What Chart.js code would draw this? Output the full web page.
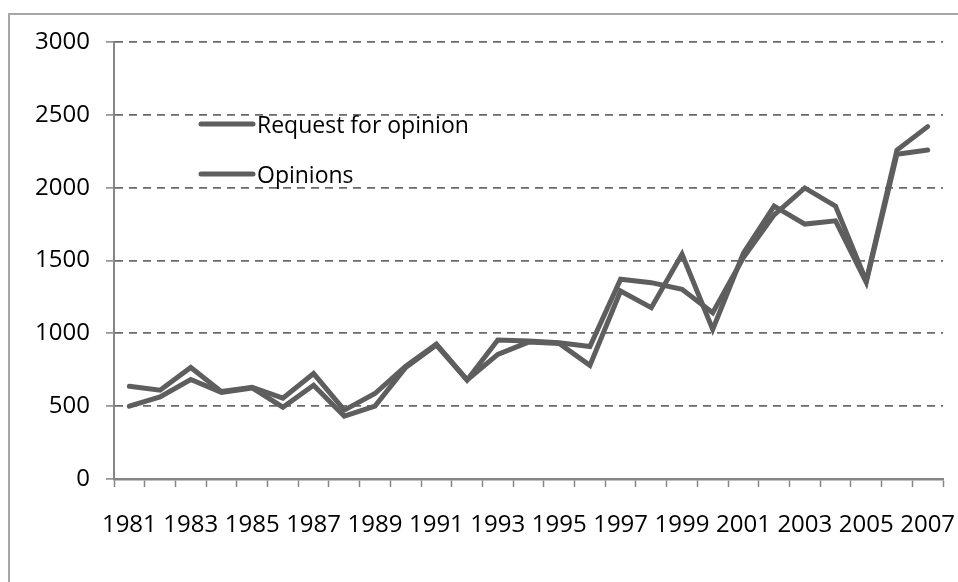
<!DOCTYPE html>
<html>
<head>
<meta charset="utf-8">
<script src="https://cdn.jsdelivr.net/npm/chart.js@4.4.1/dist/chart.umd.min.js"></script>
<style>
  html, body { margin: 0; padding: 0; background: #ffffff; }
  #wrap { position: relative; width: 958px; height: 582px; overflow: hidden; }
  #frame { position: absolute; left: 8px; top: 13px; width: 960px; height: 580px;
           border-left: 2px solid #a6a6a6; border-top: 2px solid #a6a6a6; }
  canvas { position: absolute; left: 0; top: 0; }
</style>
</head>
<body>
<div id="wrap">
  <div id="frame"></div>
  <canvas id="c" width="958" height="582"></canvas>
</div>
<script>
const years = [1981,1982,1983,1984,1985,1986,1987,1988,1989,1990,1991,1992,1993,1994,1995,1996,1997,1998,1999,2000,2001,2002,2003,2004,2005,2006,2007];
const requestsForOpinion = [637,610,766,600,630,555,724,473,587,775,926,680,954,947,936,909,1371,1348,1302,1142,1520,1813,1998,1873,1360,2258,2419];
const opinions = [500,564,683,595,625,493,644,431,500,765,920,680,856,940,930,780,1290,1176,1543,1027,1550,1873,1750,1772,1350,2230,2258];
const yTicks = [0,500,1000,1500,2000,2500,3000];
const seriesNames = ['Request for opinion','Opinions'];

const LINE = '#5e5e5e';
const AXIS = '#858585';
const FONT = "'Open Sans'";

const legendPlugin = {
  id: 'innerLegend',
  afterDraw(chart) {
    const ctx = chart.ctx;
    ctx.save();
    chart.data.datasets.forEach((ds, i) => {
      const y = 124 + i * 50;
      ctx.strokeStyle = ds.borderColor;
      ctx.lineWidth = 5;
      ctx.lineCap = 'round';
      ctx.beginPath();
      ctx.moveTo(201, y);
      ctx.lineTo(253, y);
      ctx.stroke();
      ctx.fillStyle = '#000';
      ctx.font = "23px " + FONT;
      ctx.textBaseline = 'middle';
      ctx.textAlign = 'left';
      ctx.fillText(ds.label, 257, y + 2);
    });
    ctx.restore();
  }
};

new Chart(document.getElementById('c'), {
  type: 'line',
  data: {
    labels: years.map(String),
    datasets: [
      { label: seriesNames[0], data: requestsForOpinion, borderColor: LINE, borderWidth: 5,
        pointRadius: 0, tension: 0, fill: false, borderCapStyle: 'round', borderJoinStyle: 'miter' },
      { label: seriesNames[1], data: opinions, borderColor: LINE, borderWidth: 5,
        pointRadius: 0, tension: 0, fill: false, borderCapStyle: 'round', borderJoinStyle: 'miter' }
    ]
  },
  options: {
    responsive: false,
    animation: false,
    devicePixelRatio: 1,
    layout: { padding: { left: 0, top: 42, right: 15, bottom: 0 } },
    plugins: { legend: { display: false }, tooltip: { enabled: false } },
    scales: {
      x: {
        type: 'category',
        offset: true,
        grid: { offset: true, drawOnChartArea: false, drawTicks: true, tickLength: 8,
                tickColor: AXIS, tickWidth: 1.5 },
        border: { display: true, color: AXIS, width: 2.5 },
        ticks: {
          autoSkip: false, maxRotation: 0, minRotation: 0, padding: 24,
          color: '#000', font: { family: FONT, size: 24 },
          callback: function(v, i) { return (i % 2 === 0) ? this.getLabelForValue(v) : ''; }
        },
        afterFit: s => { s.height = 103; s.paddingLeft = 0; s.paddingRight = 0; }
      },
      y: {
        min: 0, max: 3000,
        afterBuildTicks: s => { s.ticks = yTicks.map(v => ({ value: v })); },
        grid: { color: '#6a6a6a', lineWidth: 1.8, drawTicks: true, tickLength: 8,
                tickColor: AXIS, tickWidth: 1.5, tickBorderDash: [] },
        border: { display: true, color: AXIS, width: 2, dash: [8, 6] },
        ticks: { padding: 16, color: '#000', font: { family: FONT, size: 24 },
                 callback: v => String(v) },
        afterFit: s => { s.width = 114; s.paddingTop = 0; s.paddingBottom = 0; }
      }
    }
  },
  plugins: [legendPlugin]
});
</script>
</body>
</html>
